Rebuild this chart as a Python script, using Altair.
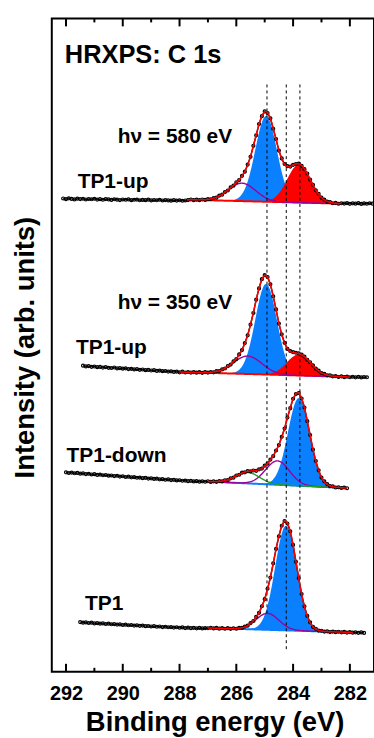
import numpy as np
import pandas as pd
import altair as alt

FONT = "Liberation Sans"

STEP = 0.1
S1_START = 292.1  # hv = 580 eV, TP1-up
S1 = [477.2, 476.5, 477.4, 476.8, 476.3, 477.0, 476.6, 476.9, 476.2, 476.7,
      476.4, 476.9, 476.1, 476.5, 475.9, 476.6, 476.3, 475.8, 476.4, 476.0,
      475.6, 476.2, 475.9, 476.3, 475.5, 475.9, 476.1, 475.4, 475.8, 475.5,
      476.0, 475.3, 475.7, 475.4, 475.9, 475.2, 475.6, 475.3, 475.0, 475.5,
      475.1, 475.4, 474.9, 475.2,
      475.6, 476.2, 475.5, 476.0, 475.5, 476.2, 475.8, 476.5, 476.4, 477.6,
      478.0, 480.1, 481.0, 483.6, 485.2, 488.4, 490.1, 493.5, 495.7, 499.9,
      504.1, 511.2, 519.0, 530.1, 540.6, 551.9, 559.8, 564.6, 563.0, 557.7,
      547.2, 536.8, 525.3, 517.4, 511.8, 509.6, 509.2, 511.0, 511.7, 512.3,
      510.0, 506.6, 502.3, 496.1, 491.0, 485.4, 481.8, 478.0, 476.1, 474.0,
      473.6, 472.4, 472.8, 471.9, 472.4,
      472.1, 472.6, 471.8, 472.3, 472.0, 472.5, 471.7, 472.2, 471.9, 472.4, 472.0]

S2_START = 291.4  # hv = 350 eV, TP1-up
S2 = [309.3, 308.6, 308.9, 308.2, 308.5, 307.8, 308.1, 307.4, 307.9, 307.2,
      307.0, 307.5, 306.6, 306.9, 306.3, 306.7, 305.9, 306.2, 305.6, 305.9,
      305.2, 305.5, 304.8, 305.1, 304.5, 304.8, 304.1, 304.4, 303.8, 304.0,
      303.4, 303.7, 303.1, 303.4,
      302.7, 303.3, 302.5, 303.0, 302.4, 302.9, 302.3, 302.8, 302.2, 302.9,
      302.4, 303.0, 302.7, 303.8, 304.0, 305.6, 306.5, 308.8, 310.4, 313.6,
      316.0, 320.6, 325.0, 332.0, 339.8, 350.7, 362.2, 375.6, 386.9, 396.2,
      400.3, 398.4, 391.0, 379.0, 365.8, 351.6, 340.8, 332.3, 326.2, 324.1,
      322.9, 322.3, 321.7, 320.5, 318.5, 315.3, 312.8, 309.7, 306.3, 304.4,
      302.0, 301.2, 299.6, 299.6, 298.6, 298.9, 298.0, 298.6, 297.8, 298.4,
      297.7,
      298.2, 297.6, 298.1, 297.5, 298.0, 297.7]

S3_START = 292.0  # TP1-down
S3 = [202.3, 201.6, 202.0, 201.3, 201.7, 200.9, 201.2, 200.5, 200.8, 200.1,
      200.4, 199.7, 200.0, 199.3, 199.6, 198.9, 199.1, 198.5, 198.8, 198.0,
      198.3, 197.6, 197.9, 197.2, 197.5, 196.8, 197.0, 196.4, 196.7, 196.0,
      196.2, 195.6, 195.9, 195.2, 195.4, 194.8, 195.1, 194.5, 194.7, 194.1,
      194.3, 193.8, 194.0, 193.4, 193.7, 193.1, 193.4, 192.9, 193.2, 192.8,
      193.3, 192.6, 193.2, 192.7, 193.4, 193.2, 194.3, 194.5, 196.2, 196.9,
      199.1, 199.8, 201.9, 202.3, 203.6, 203.3, 204.1, 203.8, 205.3, 206.0,
      208.9, 211.0, 215.1, 218.5, 224.2, 229.6, 237.9, 246.2, 257.2, 266.7,
      276.1, 280.9, 281.9, 276.4, 267.3, 253.6, 239.7, 225.0, 213.6, 204.3,
      197.0, 193.2, 190.5, 188.4, 188.1, 187.0, 187.3, 186.5, 187.0, 186.3]

S4_START = 291.5  # TP1
S4 = [51.9, 51.3, 51.6, 51.0, 51.3, 50.6, 50.9, 50.3, 50.6, 50.0,
      50.3, 49.7, 49.9, 49.4, 49.6, 49.0, 49.3, 48.7, 49.0, 48.4,
      48.6, 48.1, 48.4, 47.8, 48.0, 47.5, 47.8, 47.2, 47.5, 46.9,
      47.2, 46.7, 46.9, 46.4, 46.7, 46.2, 46.5, 45.9, 46.3, 45.8,
      46.1, 45.6, 46.0, 45.5, 45.9,
      45.7, 46.2, 45.5, 46.0, 45.3, 45.9, 45.2, 45.8, 45.1, 45.7,
      45.2, 46.1, 46.0, 47.4, 48.3, 50.9, 53.0, 57.2, 61.2, 67.8,
      74.9, 85.4, 96.6, 110.9, 125.4, 138.0, 148.6, 153.4, 150.9, 143.0,
      129.4, 112.4, 96.0, 80.0, 67.7, 58.1, 51.7, 47.1, 45.2, 43.4,
      43.2, 42.4, 42.6, 41.9, 42.4, 41.8, 42.2, 41.6, 42.0, 41.4,
      41.9, 41.3,
      41.6, 41.1, 41.5, 41.0]

SPECTRA = [(S1_START, S1), (S2_START, S2), (S3_START, S3), (S4_START, S4)]

# ---------------- fit results ----------------
FIT_HI = [287.75, 288.0, 287.0, 287.0]      # fit window (eV)
FIT_LO = [282.3, 282.0, 282.1, 281.9]
BG_HI = [476.0, 303.0, 193.0, 46.0]         # linear background at window ends
BG_LO = [472.0, 298.0, 186.5, 41.5]
BG_COLOR = ["#ff0000", "#ff0000", "#0a80ff", "#0a80ff"]

PEAK_SPEC = [0, 0, 0, 1, 1, 1, 2, 2, 2, 3, 3]
PEAK_KIND = ["fill", "fill", "line", "fill", "fill", "line", "fill", "line", "line", "fill", "line"]
PEAK_COLOR = ["#0a80ff", "#ff0000", "#9b009b", "#0a80ff", "#ff0000", "#9b009b",
              "#0a80ff", "#9b009b", "#1f9f1f", "#0a80ff", "#9b009b"]
PEAK_CENTER = [284.95, 283.8, 285.8, 284.95, 283.8, 285.6, 283.8, 284.55, 285.6, 284.25, 284.9]
PEAK_HEIGHT = [86, 38, 18, 91, 21, 18, 88, 24, 11, 105, 16.5]
PEAK_SIGMA = [0.38, 0.41, 0.48, 0.38, 0.42, 0.5, 0.38, 0.42, 0.42, 0.38, 0.4]

# ---------------- annotations ----------------
TITLE_TXT = ["HRXPS: C 1s"]
TITLE_E = [292.04]
TITLE_I = [613.3]
LABEL_TXT = ["h\u03bd = 580 eV", "TP1-up", "h\u03bd = 350 eV", "TP1-up", "TP1-down", "TP1"]
LABEL_E = [290.18, 291.59, 290.18, 291.65, 291.98, 291.33]
LABEL_I = [533.0, 487.3, 366.7, 321.0, 212.7, 64.3]

DASH_E = [284.92, 284.24, 283.76]
DASH_TOP = [591.7, 591.7, 591.7]
DASH_BOTTOM = [58.0, 22.0, 95.0]

MAJOR = [282, 284, 286, 288, 290, 292]
MINOR = [283, 285, 287, 289, 291]

# ---------------- build tables ----------------
dots = []
for k, (start, vals) in enumerate(SPECTRA):
    e = np.round(start - STEP * np.arange(len(vals)), 2)
    dots.append(pd.DataFrame({"E": e, "I": vals, "key": f"s{k}"}))
dots_df = pd.concat(dots).sort_values(["key", "E"])

comp_rows, bg_rows, env_rows = [], [], []
for k in range(4):
    e = np.round(np.arange(FIT_LO[k], FIT_HI[k] + 1e-9, 0.02), 3)
    bg = BG_LO[k] + (BG_HI[k] - BG_LO[k]) * (e - FIT_LO[k]) / (FIT_HI[k] - FIT_LO[k])
    total = bg.copy()
    for j in range(len(PEAK_SPEC)):
        if PEAK_SPEC[j] != k:
            continue
        comp = PEAK_HEIGHT[j] * np.exp(-(e - PEAK_CENTER[j]) ** 2 / (2 * PEAK_SIGMA[j] ** 2))
        total = total + comp
        comp_rows.append(pd.DataFrame({"E": e, "lo": bg, "hi": bg + comp, "key": f"p{j}",
                                       "color": PEAK_COLOR[j], "kind": PEAK_KIND[j]}))
    bg_rows.append(pd.DataFrame({"E": e, "bg": bg, "key": f"b{k}", "color": BG_COLOR[k]}))
    env_rows.append(pd.DataFrame({"E": e, "tot": total, "key": f"e{k}"}))

comp_df = pd.concat(comp_rows)
fill_df = comp_df[comp_df["kind"] == "fill"]
line_df = comp_df[comp_df["kind"] == "line"]
bg_df = pd.concat(bg_rows)
env_df = pd.concat(env_rows)
dash_df = pd.DataFrame({"E": DASH_E, "top": DASH_TOP, "bottom": DASH_BOTTOM})
title_df = pd.DataFrame({"E": TITLE_E, "I": TITLE_I, "t": TITLE_TXT})
label_df = pd.DataFrame({"E": LABEL_E, "I": LABEL_I, "t": LABEL_TXT})
major_df = pd.DataFrame({"v": MAJOR})
minor_df = pd.DataFrame({"v": MINOR})

# ---------------- scales & axes ----------------
W, H = 323.5, 656
XS = alt.Scale(domain=[292.5, 281.15], nice=False, zero=False)
YS = alt.Scale(domain=[2, 658], nice=False, zero=False)

Y_AXIS = alt.Axis(title="Intensity (arb. units)", labels=False, ticks=False, domain=False,
                  grid=False, titleFont=FONT, titleFontSize=27.5, titleFontWeight="bold",
                  titleColor="black", titleX=-18.5, titleY=330, titleBaseline="alphabetic",
                  titleAngle=270, titleAlign="center")

X_MAIN = alt.Axis(orient="bottom", values=MAJOR, format="d", domain=False, ticks=False,
                  tickSize=0, grid=False, labelPadding=27.5, labelBaseline="alphabetic",
                  labelFont=FONT, labelFontSize=20, labelFontWeight="bold", labelColor="black",
                  labelFlush=False, labelOverlap=False,
                  title="Binding energy (eV)", titleFont=FONT, titleFontSize=27.5,
                  titleFontWeight="bold", titleColor="black", titleX=163.5, titleY=58.7,
                  titleBaseline="alphabetic", titleAlign="center")


def X(field, axis=None):
    return alt.X(field, scale=XS, axis=axis)


fills = alt.Chart(fill_df).mark_area(clip=True).encode(
    x=X("E:Q"),
    y=alt.Y("hi:Q", scale=YS, axis=Y_AXIS), y2="lo:Q",
    color=alt.Color("color:N", scale=None), detail="key:N")

bgl = alt.Chart(bg_df).mark_line(clip=True, strokeWidth=2).encode(
    x=X("E:Q"),
    y=alt.Y("bg:Q", scale=YS, axis=Y_AXIS),
    color=alt.Color("color:N", scale=None), detail="key:N")

comps = alt.Chart(line_df).mark_line(clip=True, strokeWidth=1.4).encode(
    x=X("E:Q"),
    y=alt.Y("hi:Q", scale=YS, axis=Y_AXIS),
    color=alt.Color("color:N", scale=None), detail="key:N")

dashes = alt.Chart(dash_df).mark_rule(clip=True, strokeWidth=1, strokeDash=[3, 3],
                                       color="black").encode(
    x=X("E:Q"),
    y=alt.Y("top:Q", scale=YS, axis=Y_AXIS), y2="bottom:Q")

dot_line = alt.Chart(dots_df).mark_line(clip=True, strokeWidth=1.4, color="#111111").encode(
    x=X("E:Q"), y=alt.Y("I:Q", scale=YS, axis=Y_AXIS), detail="key:N")

dot_pts = alt.Chart(dots_df).mark_point(clip=True, size=9, filled=False, strokeWidth=1.2,
                                        color="black", opacity=1).encode(
    x=X("E:Q", X_MAIN), y=alt.Y("I:Q", scale=YS, axis=Y_AXIS))

env = alt.Chart(env_df).mark_line(clip=True, strokeWidth=1.5, color="#ff0000").encode(
    x=X("E:Q"),
    y=alt.Y("tot:Q", scale=YS, axis=Y_AXIS), detail="key:N")

# inward ticks on the bottom and top frame lines
tick_bot_major = alt.Chart(major_df).mark_rule(strokeWidth=2, color="black").encode(
    x=X("v:Q"), y=alt.value(H - 8), y2=alt.value(H))
tick_bot_minor = alt.Chart(minor_df).mark_rule(strokeWidth=2, color="black").encode(
    x=X("v:Q"), y=alt.value(H - 4), y2=alt.value(H))
tick_top_major = alt.Chart(major_df).mark_rule(strokeWidth=2, color="black").encode(
    x=X("v:Q"), y=alt.value(0), y2=alt.value(8))
tick_top_minor = alt.Chart(minor_df).mark_rule(strokeWidth=2, color="black").encode(
    x=X("v:Q"), y=alt.value(0), y2=alt.value(4))

title_txt = alt.Chart(title_df).mark_text(align="left", baseline="alphabetic", font=FONT,
                                          fontSize=25.5, fontWeight="bold", color="black").encode(
    x=X("E:Q"), y=alt.Y("I:Q", scale=YS, axis=Y_AXIS), text="t:N")

label_txt = alt.Chart(label_df).mark_text(align="left", baseline="alphabetic", font=FONT,
                                          fontSize=21, fontWeight="bold", color="black").encode(
    x=X("E:Q"), y=alt.Y("I:Q", scale=YS, axis=Y_AXIS), text="t:N")

chart = alt.layer(fills, bgl, comps, dashes, dot_line, dot_pts, env,
                  tick_bot_major, tick_bot_minor, tick_top_major, tick_top_minor,
                  title_txt, label_txt).resolve_axis(
    x="independent"
).properties(
    width=W, height=H,
    autosize=alt.AutoSizeParams(type="none"),
    padding={"left": 52, "top": 17, "right": 0, "bottom": 65},
    background="white",
).configure_view(stroke="black", strokeWidth=2)

chart.save("out.html", embed_options={"renderer": "svg", "actions": False})
